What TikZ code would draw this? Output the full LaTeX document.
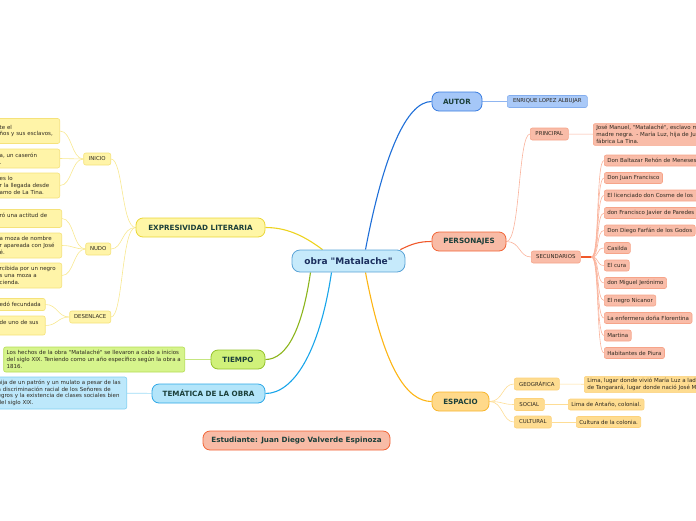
\documentclass[tikz,border=0pt]{standalone}
\usepackage{fontspec}
\setmainfont{DejaVu Sans}[Ligatures=TeXOff]
\usepackage{xcolor}
\usepackage{tikz}
\usetikzlibrary{positioning,backgrounds}

\definecolor{labelc}{HTML}{1B3F3A}
\definecolor{obrac}{HTML}{1B2F5E}
\definecolor{leafc}{HTML}{2E2920}
\definecolor{obraF}{HTML}{C6EAFB}\definecolor{obraD}{HTML}{5AA3D6}
\definecolor{autM}{HTML}{1F6FD8}\definecolor{autF}{HTML}{A5C7F8}\definecolor{autD}{HTML}{3A7DE0}
\definecolor{autSF}{HTML}{A9C9F8}\definecolor{autSD}{HTML}{84AEEE}\definecolor{autL}{HTML}{8FB5F0}
\definecolor{perM}{HTML}{F0582A}\definecolor{perF}{HTML}{F8BBA6}\definecolor{perD}{HTML}{F26436}
\definecolor{perSF}{HTML}{F9BCA8}\definecolor{perSD}{HTML}{F6A489}\definecolor{perL}{HTML}{FAB39C}
\definecolor{espM}{HTML}{FDB515}\definecolor{espF}{HTML}{FFD98A}\definecolor{espD}{HTML}{F8B52C}
\definecolor{espSF}{HTML}{FEDC90}\definecolor{espSD}{HTML}{FCD27C}\definecolor{espL}{HTML}{FEDD95}
\definecolor{expM}{HTML}{EDD31E}\definecolor{expF}{HTML}{FFF6A6}\definecolor{expD}{HTML}{EAD637}
\definecolor{expSF}{HTML}{FFF4A8}\definecolor{expSD}{HTML}{F5E27A}\definecolor{expL}{HTML}{F8E890}
\definecolor{tieM}{HTML}{8CB51C}\definecolor{tieF}{HTML}{D0F17A}\definecolor{tieD}{HTML}{94C22A}
\definecolor{tieSF}{HTML}{D6F48C}\definecolor{tieSD}{HTML}{B5DD55}\definecolor{tieL}{HTML}{C5E680}
\definecolor{temM}{HTML}{18A5EA}\definecolor{temF}{HTML}{B3E5FA}\definecolor{temD}{HTML}{2DA7E6}
\definecolor{temSF}{HTML}{BDE8FB}\definecolor{temSD}{HTML}{80D0F2}\definecolor{temL}{HTML}{9DDBF6}

\begin{document}
\begin{tikzpicture}[x=1pt,y=-1pt,
	topic/.style={draw,rounded corners=7pt,line width=0.8pt,minimum height=19pt,inner sep=0pt,font=\fontsize{7.2}{8}\selectfont\bfseries,text=labelc},
	sub/.style={draw,rounded corners=2pt,line width=0.6pt,minimum height=12pt,inner xsep=2pt,inner ysep=0pt,font=\fontsize{5.4}{6.5}\selectfont,text=leafc},
	leaf/.style={draw,rounded corners=2pt,line width=0.6pt,inner xsep=3pt,inner ysep=2pt,align=left,font=\fontsize{5.5}{6.7}\selectfont,text=leafc},
	pleaf/.style={leaf,anchor=west,minimum height=11pt,inner ysep=0pt,fill=perSF,draw=perSD},
	main/.style={line width=1.1pt},
	link/.style={line width=0.6pt}]
	\useasboundingbox (0,0) rectangle (696,520);
	%
	\node[draw=obraD,fill=obraF,line width=0.8pt,rounded corners=8pt,minimum width=113pt,minimum height=22pt,inner sep=0pt,font=\fontsize{9}{10}\selectfont\bfseries,text=obrac] (obra) at (348.5,261) {obra "Matalache"};
	%
	\node[topic,fill=autF,draw=autD,minimum width=50pt] (autor) at (457,101.5) {AUTOR};
	\node[sub,fill=autSF,draw=autSD,anchor=west,minimum width=80pt] (enrique) at (507,101.5) {ENRIQUE LOPEZ ALBUJAR};
	%
	\node[topic,fill=perF,draw=perD,minimum width=74pt] (pers) at (469,241.5) {PERSONAJES};
	\node[sub,fill=perSF,draw=perSD,anchor=west,minimum width=38pt] (princ) at (530,134) {PRINCIPAL};
	\node[leaf,fill=perSF,draw=perSD,anchor=west,text width=130pt] (princtxt) at (593,134.5) {José Manuel, "Matalaché", esclavo mulato\\madre negra. - María Luz, hija de Juan\\fábrica La Tina.};
	\node[sub,fill=perSF,draw=perSD,anchor=west,minimum width=49pt] (secund) at (531,257) {SECUNDARIOS};
	\node[pleaf] (s1) at (604,160.5) {Don Baltazar Rehón de Meneses};
	\node[pleaf] (s2) at (604,178) {Don Juan Francisco};
	\node[pleaf,text width=96pt] (s3) at (604,195.5) {El licenciado don Cosme de los};
	\node[pleaf] (s4) at (604,213) {don Francisco Javier de Paredes};
	\node[pleaf] (s5) at (604,230.5) {Don Diego Farfán de los Godos};
	\node[pleaf] (s6) at (604,248) {Casilda};
	\node[pleaf] (s7) at (604,265.5) {El cura};
	\node[pleaf] (s8) at (604,283) {don Miguel Jerónimo};
	\node[pleaf] (s9) at (604,300.5) {El negro Nicanor};
	\node[pleaf] (s10) at (604,318) {La enfermera doña Florentina};
	\node[pleaf] (s11) at (604,335.5) {Martina};
	\node[pleaf] (s12) at (604,353) {Habitantes de Piura};
	%
	\node[topic,fill=espF,draw=espD,minimum width=57pt] (espacio) at (460.5,401.5) {ESPACIO};
	\node[sub,fill=espSF,draw=espSD,anchor=west,minimum width=45pt] (geo) at (514,384) {GEOGRÁFICA};
	\node[sub,fill=espSF,draw=espSD,anchor=west,minimum width=30pt] (soc) at (514,404.5) {SOCIAL};
	\node[sub,fill=espSF,draw=espSD,anchor=west,minimum width=37pt] (cult) at (514,422) {CULTURAL};
	\node[leaf,fill=espSF,draw=espSD,anchor=west,text width=130pt] (geotxt) at (584,384.5) {Lima, lugar donde vivió María Luz a lado\\de Tangarará, lugar donde nació José Manuel};
	\node[leaf,fill=espSF,draw=espSD,anchor=west,minimum height=11pt,inner ysep=0pt] (soctxt) at (568,404.5) {Lima de Antaño, colonial.};
	\node[leaf,fill=espSF,draw=espSD,anchor=west,minimum height=11pt,inner ysep=0pt] (culttxt) at (576,422) {Cultura de la colonia.};
	%
	\node[topic,fill=expF,draw=expD,minimum width=129pt] (expr) at (200.5,227.5) {EXPRESIVIDAD LITERARIA};
	\node[sub,fill=expSF,draw=expSD,anchor=east,minimum width=27pt] (inicio) at (111,159) {INICIO};
	\node[sub,fill=expSF,draw=expSD,anchor=east,minimum width=25pt] (nudo) at (111,249) {NUDO};
	\node[sub,fill=expSF,draw=expSD,anchor=east,minimum width=41pt] (desen) at (111,317) {DESENLACE};
	\node[leaf,fill=expSF,draw=expSD,anchor=east,text width=57pt,minimum height=25pt] (i1) at (60,131) {te el\\ños y sus esclavos,};
	\node[leaf,fill=expSF,draw=expSD,anchor=east,text width=57pt,minimum height=19pt] (i2) at (60,158.5) {a, un caserón\\.};
	\node[leaf,fill=expSF,draw=expSD,anchor=east,text width=57pt,minimum height=25pt] (i3) at (60,185.5) {es lo\\r la llegada desde\\amo de La Tina.};
	\node[leaf,fill=expSF,draw=expSD,anchor=east,text width=59pt,minimum height=18pt] (n1) at (62,218.5) {ró una actitud de\\~};
	\node[leaf,fill=expSF,draw=expSD,anchor=east,text width=59pt,minimum height=25pt] (n2) at (62,245.5) {a moza de nombre\\r apareada con José\\é.};
	\node[leaf,fill=expSF,draw=expSD,anchor=east,text width=59pt,minimum height=25pt] (n3) at (62,275.5) {rcibida por un negro\\s una moza a\\cienda.};
	\node[leaf,fill=expSF,draw=expSD,anchor=east,text width=42.5pt,minimum height=12pt,inner ysep=0pt] (d1) at (45.5,304.5) {edó fecundada};
	\node[leaf,fill=expSF,draw=expSD,anchor=east,text width=42.5pt,minimum height=19pt] (d2) at (45.5,325.5) {de uno de sus\\~};
	%
	\node[topic,fill=tieF,draw=tieD,minimum width=54pt] (tiempo) at (238,359.5) {TIEMPO};
	\node[leaf,fill=tieSF,draw=tieSD,anchor=east,text width=175pt,minimum height=25pt] (tiempotxt) at (185,359.5) {Los hechos de la obra "Matalaché" se llevaron a cabo a inicios\\del siglo XIX. Teniendo como un año específico según la obra a\\1816.};
	%
	\node[topic,fill=temF,draw=temD,minimum width=113pt] (tema) at (208.5,393.5) {TEMÁTICA DE LA OBRA};
	\node[leaf,fill=temSF,draw=temSD,anchor=east,text width=126pt,minimum height=32pt] (tematxt) at (127,393) {hija de un patrón y un mulato a pesar de las\\a discriminación racial de los Señores de\\egros y la existencia de clases sociales bien\\ del siglo XIX.};
	%
	\node[topic,fill=perF,draw=perD,minimum width=187pt] (est) at (296.5,440.5) {Estudiante: Juan Diego Valverde Espinoza};
	%
	\begin{scope}[on background layer]
		\draw[main,autM] ([xshift=17pt]obra.north) .. controls +(18,-95) and +(-25,0) .. (autor.west);
		\draw[main,perM] ([xshift=-5pt]obra.north east) .. controls +(12,-6) and +(-12,0) .. (pers.west);
		\draw[main,espM] ([xshift=17pt]obra.south) .. controls +(18,95) and +(-25,0) .. (espacio.west);
		\draw[main,expM] ([xshift=-26pt]obra.north) .. controls +(-20,-15) and +(20,0) .. (expr.east);
		\draw[main,tieM] ([xshift=-38pt]obra.south) .. controls +(-8,55) and +(22,0) .. (tiempo.east);
		\draw[main,temM] ([xshift=-17pt]obra.south) .. controls +(-12,80) and +(28,0) .. (tema.east);
		%
		\draw[link,autL] (autor) -- (enrique);
		\draw[link,perL] (pers.east) .. controls +(14,0) and +(-12,0) .. (princ.west);
		\draw[link,perL] (pers.east) .. controls +(14,0) and +(-12,0) .. (secund.west);
		\draw[link,perL] (princ) -- (princtxt);
		\draw[line width=1.4pt,perM] (secund.east) -- ++(11,0) coordinate (sfan);
		\foreach \s in {s1,s2,s3,s4,s5,s6,s7,s8,s9,s10,s11,s12}
			\draw[link,perL] (sfan) .. controls +(8,0) and +(-8,0) .. (\s.west);
		%
		\foreach \s in {geo,soc,cult}
			\draw[link,espL] (espacio.east) .. controls +(14,0) and +(-12,0) .. (\s.west);
		\draw[link,espL] (geo) -- (geotxt);
		\draw[link,espL] (soc) -- (soctxt);
		\draw[link,espL] (cult) -- (culttxt);
		%
		\foreach \s in {inicio,nudo,desen}
			\draw[link,expL] (expr.west) .. controls +(-14,0) and +(12,0) .. (\s.east);
		\foreach \s in {i1,i2,i3}
			\draw[link,expL] (inicio.west) .. controls +(-12,0) and +(12,0) .. (\s.east);
		\foreach \s in {n1,n2,n3}
			\draw[link,expL] (nudo.west) .. controls +(-12,0) and +(12,0) .. (\s.east);
		\foreach \s in {d1,d2}
			\draw[link,expL] (desen.west) .. controls +(-12,0) and +(12,0) .. (\s.east);
		%
		\draw[link,tieL] (tiempo) -- (tiempotxt);
		\draw[link,temL] (tema) -- (tematxt);
	\end{scope}
\end{tikzpicture}
\end{document}
